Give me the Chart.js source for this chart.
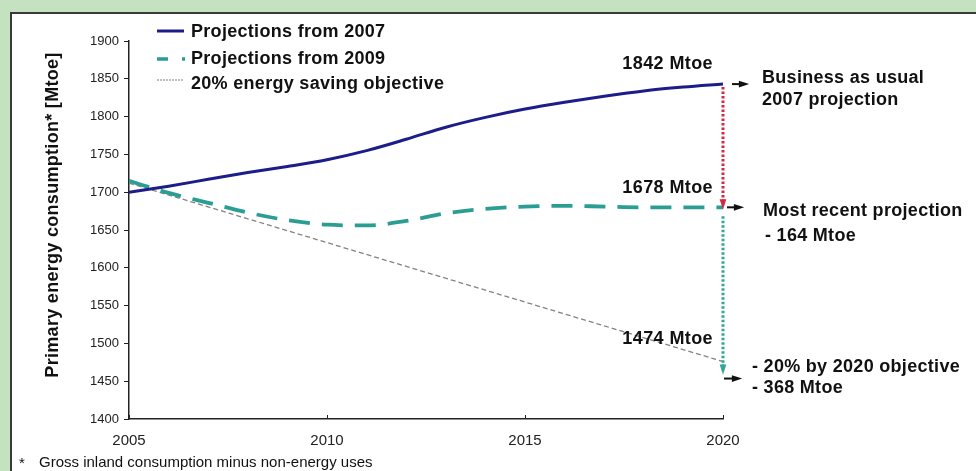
<!DOCTYPE html>
<html>
<head>
<meta charset="utf-8">
<script src="https://cdn.jsdelivr.net/npm/chart.js@4.4.1/dist/chart.umd.min.js"></script>
<style>
html,body{margin:0;padding:0;background:#fff;}
#wrap{position:relative;width:976px;height:471px;}
</style>
</head>
<body>
<div id="wrap"><canvas id="c" width="976" height="471"></canvas></div>
<script>
// ---- data ----
const years = [2005,2006,2007,2008,2009,2010,2011,2012,2013,2014,2015,2016,2017,2018,2019,2020];
const proj2007 = [1700,1708,1717,1726,1734,1743,1755,1770,1786,1799,1810,1819,1827,1834,1839,1843];
const proj2009 = [1715,1699,1686,1673,1663,1657,1656,1662,1672,1678,1681,1682,1681,1680,1680,1680];
const objYears = [2005,2020];
const objective = [1712,1476];
const seriesNames = ["Projections from 2007","Projections from 2009","20% energy saving objective"];
const yTicks = [1400,1450,1500,1550,1600,1650,1700,1750,1800,1850,1900];
const xTicks = [2005,2010,2015,2020];
const endLabels = ["1842 Mtoe","1678 Mtoe","1474 Mtoe"];
const annoText = {
  bau:["Business as usual","2007 projection"],
  recent:["Most recent projection","- 164 Mtoe"],
  target:["- 20% by 2020 objective","- 368 Mtoe"]
};
const yTitle = "Primary energy consumption* [Mtoe]";
const footnote = "Gross inland consumption minus non-energy uses";

const navy = "#1d1d8a", teal = "#2b9e94", grayc = "#8a8080";
const FONT = "'Liberation Sans', Arial, sans-serif";
const toPts = (xs, ys) => xs.map((x,i)=>({x:x,y:ys[i]}));

function arrow(ctx, x1, y1, x2, y2, color, w, head){
  ctx.save();
  ctx.strokeStyle = color; ctx.fillStyle = color; ctx.lineWidth = w;
  ctx.beginPath(); ctx.moveTo(x1,y1); ctx.lineTo(x2,y2); ctx.stroke();
  const a = Math.atan2(y2-y1, x2-x1);
  ctx.beginPath();
  ctx.moveTo(x2 + Math.cos(a)*head*0.6, y2 + Math.sin(a)*head*0.6);
  ctx.lineTo(x2 - Math.cos(a-0.5)*head, y2 - Math.sin(a-0.5)*head);
  ctx.lineTo(x2 - Math.cos(a+0.5)*head, y2 - Math.sin(a+0.5)*head);
  ctx.closePath(); ctx.fill();
  ctx.restore();
}

const deco = {
  id:'deco',
  beforeDraw(chart){
    const ctx = chart.ctx;
    ctx.save();
    ctx.fillStyle = "#fff"; ctx.fillRect(0,0,976,471);
    ctx.fillStyle = "#c4e2c0";
    ctx.fillRect(0,0,976,12); ctx.fillRect(0,0,10,471);
    ctx.fillStyle = "#3a3a3a";
    ctx.fillRect(10,12,966,2); ctx.fillRect(10,12,2,459);
    ctx.restore();
  },
  afterDraw(chart){
    const ctx = chart.ctx, xs = chart.scales.x, ys = chart.scales.y;
    ctx.save();
    // inward x ticks
    ctx.strokeStyle = "#222"; ctx.lineWidth = 1;
    xTicks.forEach(t=>{ const px = Math.round(xs.getPixelForValue(t))+0.5;
      ctx.beginPath(); ctx.moveTo(px, ys.bottom); ctx.lineTo(px, ys.bottom-4); ctx.stroke(); });
    // y title
    ctx.fillStyle = "#111";
    ctx.letterSpacing = "0.3px";
    ctx.font = "bold 18px " + FONT;
    ctx.textAlign = "center"; ctx.textBaseline = "middle";
    ctx.translate(53, 215); ctx.rotate(-Math.PI/2);
    ctx.fillText(yTitle, 0, 0);
    ctx.setTransform(1,0,0,1,0,0);
    // footnote
    ctx.letterSpacing = "0px";
    ctx.font = "15px " + FONT;
    ctx.textAlign = "left";
    ctx.fillText("*", 19, 464);
    ctx.fillText(footnote, 39, 463);
    // legend
    const lx = 157, lineY = [31,59,80], textY = [32.5,59,84];
    ctx.lineWidth = 3; ctx.strokeStyle = navy; ctx.setLineDash([]);
    ctx.beginPath(); ctx.moveTo(lx, lineY[0]); ctx.lineTo(lx+27, lineY[0]); ctx.stroke();
    ctx.lineWidth = 3.5; ctx.strokeStyle = teal; ctx.setLineDash([11,14,3,30]);
    ctx.beginPath(); ctx.moveTo(lx, lineY[1]); ctx.lineTo(lx+28, lineY[1]); ctx.stroke();
    ctx.lineWidth = 1.5; ctx.strokeStyle = "#aaa"; ctx.setLineDash([2,1]);
    ctx.beginPath(); ctx.moveTo(lx, lineY[2]); ctx.lineTo(lx+27, lineY[2]); ctx.stroke();
    ctx.setLineDash([]);
    ctx.letterSpacing = "0.3px";
    ctx.font = "bold 18px " + FONT;
    ctx.fillStyle = "#111";
    seriesNames.forEach((n,i)=>ctx.fillText(n, 191, textY[i]));
    // annotations
    const x20 = xs.getPixelForValue(2020);
    const yB = ys.getPixelForValue(proj2007[proj2007.length-1]);
    const yR = ys.getPixelForValue(proj2009[proj2009.length-1]);
    const yT = ys.getPixelForValue(objective[objective.length-1]);
    ctx.lineWidth = 3;
    ctx.strokeStyle = "#d42a40"; ctx.setLineDash([2.5,2]);
    ctx.beginPath(); ctx.moveTo(x20, yB+3); ctx.lineTo(x20, yR-6); ctx.stroke();
    ctx.setLineDash([]);
    arrow(ctx, x20, yR-7, x20, yR-2, "#d42a40", 1, 7);
    ctx.strokeStyle = "#33a59c"; ctx.setLineDash([2.5,2]);
    ctx.beginPath(); ctx.moveTo(x20, yR+9); ctx.lineTo(x20, yT+4); ctx.stroke();
    ctx.setLineDash([]);
    arrow(ctx, x20, yT+2, x20, yT+9, "#33a59c", 1, 7);
    // black arrows
    arrow(ctx, x20+9, yB, x20+22, yB, "#111", 2, 7);
    arrow(ctx, x20+4, yR, x20+17, yR, "#111", 2, 7);
    arrow(ctx, x20+1, yT+17, x20+15, yT+17, "#111", 2, 7);
    // labels
    ctx.font = "bold 18px " + FONT;
    ctx.letterSpacing = "0.4px";
    ctx.textAlign = "right"; ctx.fillStyle = "#111";
    ctx.fillText(endLabels[0], 713, 64);
    ctx.fillText(endLabels[1], 713, 188);
    ctx.fillText(endLabels[2], 713, 339);
    ctx.textAlign = "left";
    ctx.letterSpacing = "0.3px";
    ctx.fillText(annoText.bau[0], 762, 78.5);
    ctx.fillText(annoText.bau[1], 762, 100.5);
    ctx.fillText(annoText.recent[0], 763, 211);
    ctx.fillText(annoText.recent[1], 765, 236);
    ctx.fillText(annoText.target[0], 752, 367);
    ctx.fillText(annoText.target[1], 752, 388.5);
    ctx.restore();
  }
};

new Chart(document.getElementById('c'), {
  type:'line',
  data:{ datasets:[
    {label:seriesNames[0], data:toPts(years,proj2007), borderColor:navy, borderWidth:3, pointRadius:0, cubicInterpolationMode:'monotone', order:1},
    {label:seriesNames[1], data:toPts(years,proj2009), borderColor:teal, borderWidth:3.8, borderDash:[21,12], pointRadius:0, cubicInterpolationMode:'monotone', order:2},
    {label:seriesNames[2], data:toPts(objYears,objective), borderColor:grayc, borderWidth:1.3, borderDash:[5,3], pointRadius:0, order:3}
  ]},
  options:{
    responsive:false, animation:false,
    layout:{padding:{top:41,right:253,left:0,bottom:0}},
    plugins:{legend:{display:false}, tooltip:{enabled:false}},
    scales:{
      x:{type:'linear', min:2005, max:2020,
         afterFit:s=>{s.height=52;},
         afterBuildTicks:s=>{s.ticks = xTicks.map(v=>({value:v}));},
         ticks:{padding:13, color:"#222", font:{family:FONT, size:15}, maxRotation:0, callback:v=>String(v)},
         grid:{display:true, drawOnChartArea:false, drawTicks:false},
         border:{display:true, color:"#222", width:1.5}},
      y:{min:1400, max:1900,
         afterFit:s=>{s.width=129;},
         afterBuildTicks:s=>{s.ticks = yTicks.map(v=>({value:v}));},
         ticks:{padding:5, color:"#222", font:{family:FONT, size:13}, callback:v=>String(v)},
         grid:{display:true, drawOnChartArea:false, drawTicks:true, tickLength:5, color:"#222"},
         border:{display:true, color:"#222", width:1.5}}
    }
  },
  plugins:[deco]
});
</script>
</body>
</html>
